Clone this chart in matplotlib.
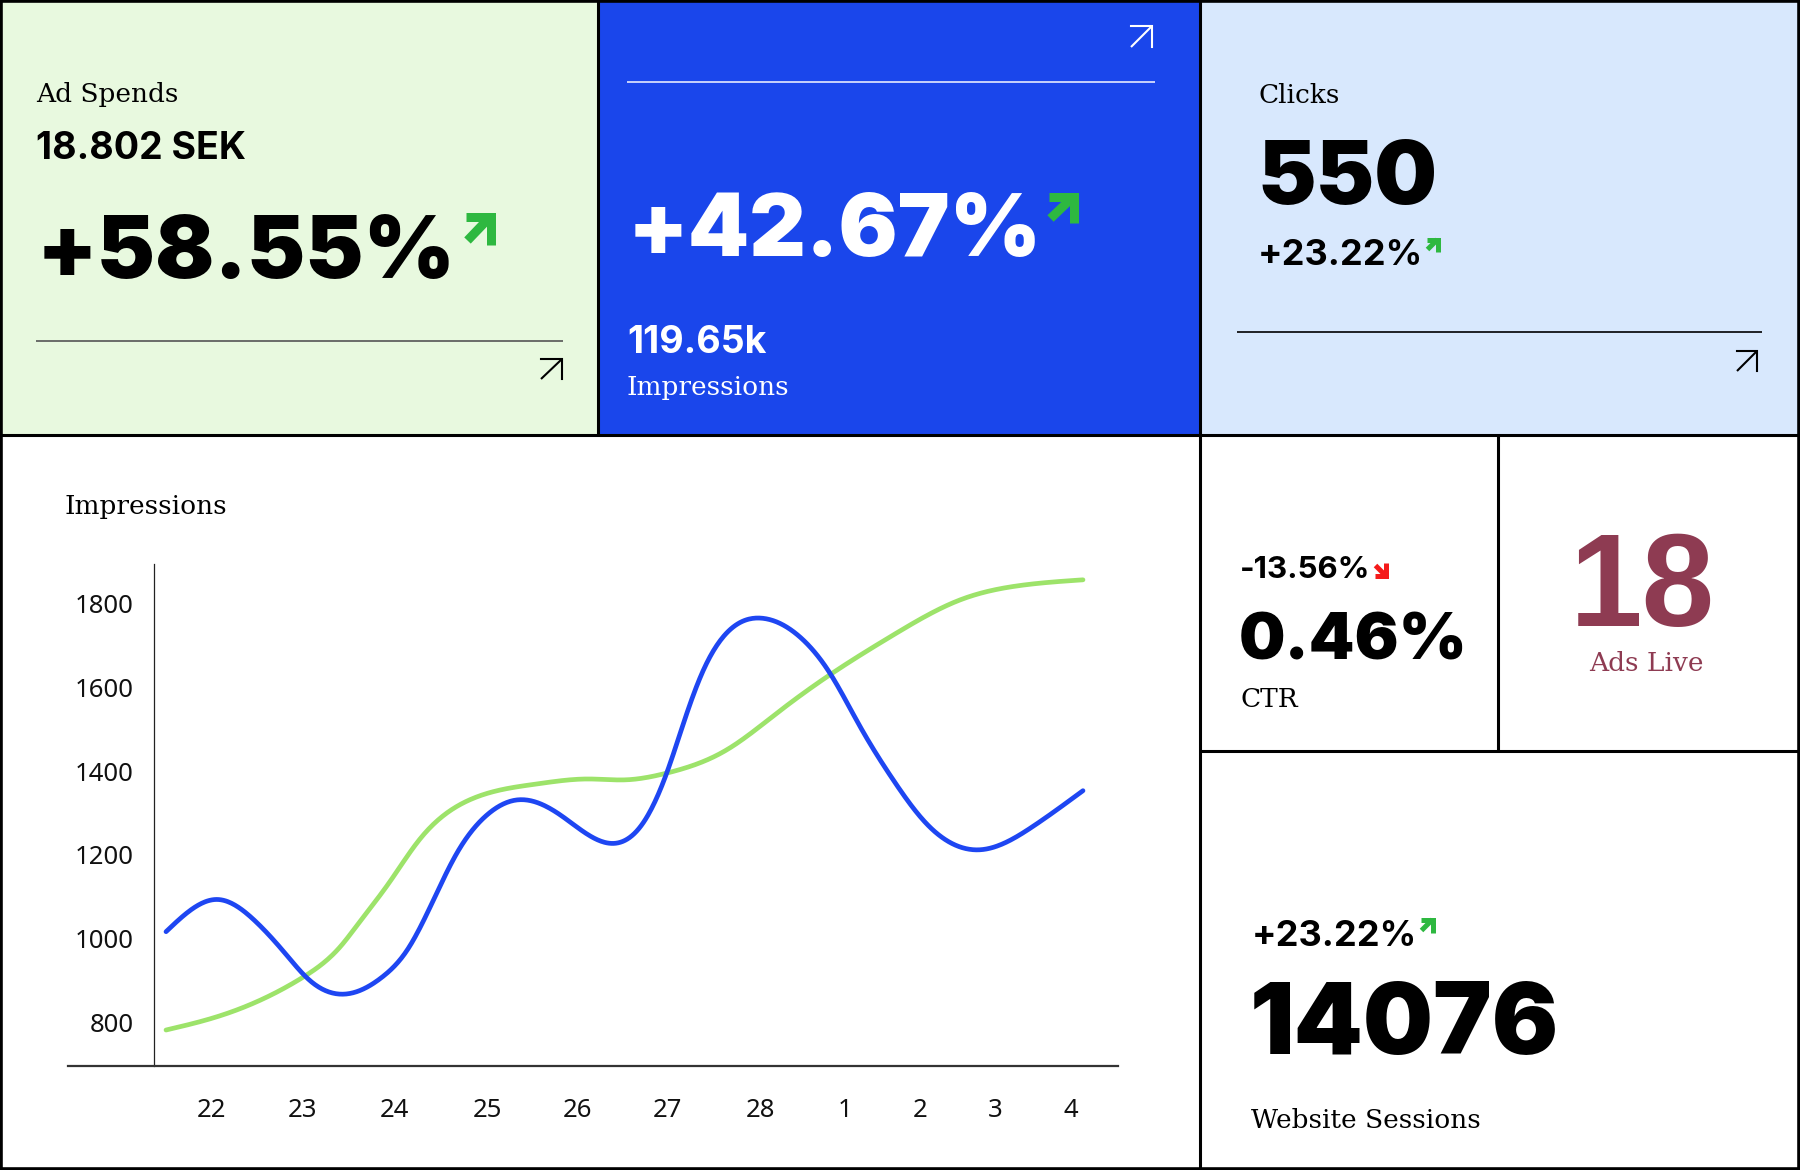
import numpy as np
import matplotlib
matplotlib.use("Agg")
import matplotlib.pyplot as plt
from matplotlib.patches import Rectangle

# ---------------- data ----------------
date_labels = ['22', '23', '24', '25', '26', '27', '28', '1', '2', '3', '4']
date_pos = [5.0, 14.9, 24.9, 35.0, 44.9, 54.7, 64.8, 74.0, 82.2, 90.4, 98.7]
y_ticks = [800, 1000, 1200, 1400, 1600, 1800]

blue_x = [0, 5.6, 9.6, 13.0, 15.6, 19.6, 23.6, 26.3, 29.0, 31.7, 35.0, 38.3, 43.0,
          48.8, 52.0, 54.6, 56.8, 58.6, 61.1, 65.1, 69.1, 72.4, 75.7, 79.3, 82.9,
          88.9, 94.5, 100]
blue_y = [1016, 1093, 1044, 964, 901, 867, 908, 972, 1084, 1203, 1295, 1331, 1295,
          1227, 1275, 1395, 1538, 1641, 1729, 1765, 1721, 1634, 1506, 1379, 1275,
          1212, 1267, 1353]

green_x = [0, 5.6, 15.0, 19.0, 21.0, 24.3, 27.6, 33.1, 40.4, 46.0, 50.2, 54.6, 61.1,
           66.6, 72.4, 79.3, 86.6, 93.0, 100]
green_y = [781, 813, 908, 980, 1036, 1132, 1235, 1331, 1369, 1381, 1379, 1395, 1450,
           1538, 1630, 1725, 1809, 1843, 1857]

# KPI texts
ad_label, ad_value, ad_change = 'Ad Spends', '18.802 SEK', '+58.55%'
imp_change, imp_value, imp_label = '+42.67%', '119.65k', 'Impressions'
clk_label, clk_value, clk_change = 'Clicks', '550', '+23.22%'
ctr_change, ctr_value, ctr_label = '-13.56%', '0.46%', 'CTR'
ads_value, ads_label = '18', 'Ads Live'
ws_change, ws_value, ws_label = '+23.22%', '14076', 'Website Sessions'
chart_title = 'Impressions'

# ---------------- helpers ----------------
def spline(x, y, xs):
    """natural cubic spline through the read points (for a smooth line)"""
    x = np.asarray(x, float); y = np.asarray(y, float)
    n = len(x); h = np.diff(x)
    A = np.zeros((n, n)); r = np.zeros(n)
    A[0, 0] = A[-1, -1] = 1
    for i in range(1, n - 1):
        A[i, i - 1] = h[i - 1]; A[i, i] = 2 * (h[i - 1] + h[i]); A[i, i + 1] = h[i]
        r[i] = 6 * ((y[i + 1] - y[i]) / h[i] - (y[i] - y[i - 1]) / h[i - 1])
    M = np.linalg.solve(A, r)
    idx = np.clip(np.searchsorted(x, xs) - 1, 0, n - 2)
    hi = h[idx]; a = x[idx + 1] - xs; b = xs - x[idx]
    return (M[idx] * a**3 / (6 * hi) + M[idx + 1] * b**3 / (6 * hi)
            + (y[idx] / hi - M[idx] * hi / 6) * a + (y[idx + 1] / hi - M[idx + 1] * hi / 6) * b)

W, H = 1800, 1170
fig = plt.figure(figsize=(18, 11.7), dpi=100)
bg = fig.add_axes([0, 0, 1, 1])
bg.set_xlim(0, W); bg.set_ylim(H, 0); bg.axis('off')

C_GREEN_BG = '#E8F9DF'
C_BLUE = '#1A46EB'
C_LBLUE = '#D8E8FD'
C_ARROW = '#2EB840'
C_RED = '#F51A1A'
C_WINE = '#8E3B52'
SERIF = 'DejaVu Serif'
NUM = 'Inter'

bg.add_patch(Rectangle((0, 0), 598, 435, color=C_GREEN_BG, zorder=0))
bg.add_patch(Rectangle((598, 0), 602, 435, color=C_BLUE, zorder=0))
bg.add_patch(Rectangle((1200, 0), 600, 435, color=C_LBLUE, zorder=0))

LW = 2.2
def seg(xs, ys, c='black', lw=LW, **kw):
    bg.plot(xs, ys, color=c, lw=lw, solid_capstyle='butt', **kw)

# grid lines
seg([598, 598], [0, 435]); seg([1200, 1200], [0, H])
seg([0, W], [435, 435]); seg([1498, 1498], [435, 751]); seg([1200, W], [751, 751])
bg.add_patch(Rectangle((1, 1), W - 2, H - 2, fill=False, ec='black', lw=2.6, zorder=5))

def outline_arrow(x0, y0, x1, y1, c, lw=1.5):
    bg.plot([x0, x1, x1], [y0, y0, y1], color=c, lw=lw, solid_joinstyle='miter')
    bg.plot([x0, x1], [y1, y0], color=c, lw=lw, solid_capstyle='butt')

def bold_arrow(x0, y0, x1, y1, c, t, down=False):
    w = x1 - x0
    lw = t * 0.72
    if not down:
        bg.plot([x0 + 0.1 * w, x1 - t / 2, x1 - t / 2], [y0 + t / 2, y0 + t / 2, y1],
                color=c, lw=lw, solid_joinstyle='miter', solid_capstyle='butt')
        bg.plot([x0 + t / 2, x1 - t / 2], [y1 - t / 2, y0 + t / 2], color=c, lw=lw,
                solid_capstyle='butt')
    else:
        bg.plot([x1 - t / 2, x1 - t / 2, x0 + 0.1 * w], [y0, y1 - t / 2, y1 - t / 2],
                color=c, lw=lw, solid_joinstyle='miter', solid_capstyle='butt')
        bg.plot([x0 + t / 2, x1 - t / 2], [y0 + t / 2, y1 - t / 2], color=c, lw=lw,
                solid_capstyle='butt')

def txt(x, y, s, size, family, weight='normal', color='black', ha='left'):
    bg.text(x, y, s, fontsize=size, family=family, fontweight=weight, color=color,
            ha=ha, va='baseline')

# ---- Ad Spends panel
txt(36, 102, ad_label, 19, SERIF)
txt(36, 159, ad_value, 27, NUM, 'bold')
txt(37, 278, ad_change, 63, NUM, 'black')
bold_arrow(463, 212, 495, 245, C_ARROW, 9)
seg([36, 563], [341, 341], c='#555555', lw=1.2)
outline_arrow(541, 359, 562, 379, 'black')

# ---- Impressions panel
outline_arrow(1131, 26, 1152, 47, 'white')
seg([627, 1155], [82, 82], c='#E6EAFF', lw=1.2)
txt(628, 256, imp_change, 63, NUM, 'black', 'white')
bold_arrow(1046, 192, 1078, 223, C_ARROW, 9)
txt(627, 353, imp_value, 27, NUM, 'bold', 'white')
txt(627, 395, imp_label, 19, SERIF, color='white')

# ---- Clicks panel
txt(1258, 103, clk_label, 19, SERIF)
txt(1257, 204, clk_value, 63.5, NUM, 'black')
txt(1258, 265, clk_change, 26, NUM, 'bold')
bold_arrow(1425, 237, 1440, 252, C_ARROW, 5)
seg([1237, 1762], [332, 332], c='black', lw=1.2)
outline_arrow(1737, 351, 1757, 371, 'black')

# ---- CTR
txt(1240, 578, ctr_change, 22.5, NUM, 'bold')
bold_arrow(1373, 563, 1388, 578, C_RED, 5, down=True)
txt(1239, 660, ctr_value, 47, NUM, 'black')
txt(1240, 707, ctr_label, 19, SERIF)

# ---- Ads live
txt(1642, 626, ads_value, 94, 'Liberation Sans', 'bold', C_WINE, ha='center')
txt(1646, 671, ads_label, 19, SERIF, color=C_WINE, ha='center')

# ---- Website sessions
txt(1252, 946, ws_change, 26, NUM, 'bold')
bold_arrow(1419, 917, 1435, 933, C_ARROW, 5)
txt(1250, 1054, ws_value, 71, NUM, 'black')
txt(1251, 1128, ws_label, 19, SERIF)

# ---- chart
txt(65, 514, chart_title, 19, SERIF)

ax = fig.add_axes([68 / W, 1 - 1066 / H, (1118 - 68) / W, (1066 - 564) / H])
ax.set_facecolor('none')
ax.set_xlim(-10.69, 103.82)
ax.set_ylim(695.0, 1894.8)
xs_b = np.linspace(min(blue_x), max(blue_x), 800)
xs_g = np.linspace(min(green_x), max(green_x), 800)
ax.plot(xs_g, spline(green_x, green_y, xs_g), color='#9DE36A', lw=3.4,
        solid_capstyle='round', zorder=3)
ax.plot(xs_b, spline(blue_x, blue_y, xs_b), color='#1E46F2', lw=3.4,
        solid_capstyle='round', zorder=4)
for s in ['top', 'right']:
    ax.spines[s].set_visible(False)
ax.spines['left'].set_position(('data', -1.36))
ax.spines['left'].set_linewidth(0.9)
ax.spines['left'].set_color('#222222')
ax.spines['bottom'].set_linewidth(1.6)
ax.spines['bottom'].set_color('#333333')
ax.set_yticks(y_ticks)
ax.set_yticklabels([str(v) for v in y_ticks])
ax.set_xticks(date_pos)
ax.set_xticklabels(date_labels)
ax.tick_params(axis='both', length=0, labelsize=18.5, labelcolor='#111111')
ax.tick_params(axis='y', pad=14.5)
ax.tick_params(axis='x', pad=23)
for lab in ax.get_xticklabels() + ax.get_yticklabels():
    lab.set_family('Noto Sans')

fig.savefig('out.png', dpi=100)
